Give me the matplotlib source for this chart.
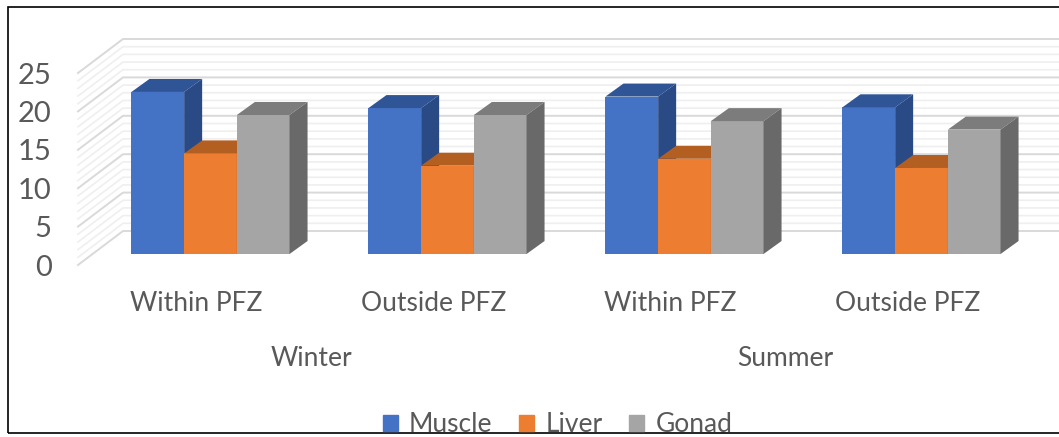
import matplotlib
matplotlib.use("Agg")
import matplotlib.pyplot as plt
from matplotlib.patches import Patch, Polygon, Rectangle
from matplotlib.transforms import blended_transform_factory
import numpy as np

W, H = 1059, 437

categories = ["Within PFZ", "Outside PFZ", "Within PFZ", "Outside PFZ"]
seasons = ["Winter", "Summer"]
series = ["Muscle", "Liver", "Gonad"]
muscle = [21.1, 19.0, 20.5, 19.1]
liver = [13.1, 11.5, 12.4, 11.2]
gonad = [18.1, 18.1, 17.3, 16.2]
yticks = [0, 5, 10, 15, 20, 25]

front_colors = ["#4472c4", "#ed7d31", "#a5a5a5"]
top_colors = ["#2f5597", "#b45f22", "#7c7c7c"]
side_colors = ["#294a84", "#b45f22", "#696969"]
text_color = "#595959"

plt.rcParams["font.family"] = ["Lato", "DejaVu Sans"]

# one unit on x is one category, one unit on y is 7.68 px
px_x = 237.0
px_y = 7.68
left_px, zero_px = 78, 265
bar_w = 52.7 / px_x
wall_dx, wall_dy = 45 / px_x, 34 / px_y
bar_dx, bar_dy = 18 / px_x, 13 / px_y
base_y = 11 / px_y
label_shift = 14 / px_x

fig = plt.figure(figsize=(W / 100, H / 100), dpi=100)
ax = fig.add_axes([left_px / W, (H - zero_px) / H, (W - left_px) / W, (zero_px - 30) / H])
first_center = (210.5 - left_px) / px_x
centers = first_center + np.arange(len(categories))
ax.set_xlim(0, (W - left_px) / px_x)
ax.set_ylim(0, (zero_px - 30) / px_y)
for s in ax.spines.values():
    s.set_visible(False)

# back and side wall gridlines, one per unit
for v in range(0, 26):
    major = v % 5 == 0
    col = "#d9d9d9" if major else "#efefef"
    ax.plot([0, wall_dx, ax.get_xlim()[1]], [v, v + wall_dy, v + wall_dy],
            color=col, lw=1.4 if major else 1.2, zorder=1 if not major else 2, clip_on=False)

for i, vals in enumerate([muscle, liver, gonad]):
    xs = centers + (i - 1) * bar_w
    ax.bar(xs, vals, bar_w, bottom=base_y, color=front_colors[i], zorder=5 + i * 2)
    for x, v in zip(xs, vals):
        x0, x1 = x - bar_w / 2, x + bar_w / 2
        top = base_y + v
        ax.add_patch(Polygon([(x0, top), (x1, top), (x1 + bar_dx, top + bar_dy), (x0 + bar_dx, top + bar_dy)],
                             closed=True, color=top_colors[i], lw=0, zorder=5 + i * 2))
        ax.add_patch(Polygon([(x1, base_y), (x1, top), (x1 + bar_dx, top + bar_dy), (x1 + bar_dx, base_y + bar_dy)],
                             closed=True, color=side_colors[i], lw=0, zorder=5 + i * 2))

ax.set_yticks(yticks)
ax.set_xticks(centers - label_shift)
ax.set_xticklabels(categories)
ax.tick_params(axis="both", length=0, labelcolor=text_color, labelsize=19)
ax.tick_params(axis="x", pad=18.7)
ax.tick_params(axis="y", pad=19, labelsize=21)

trans = blended_transform_factory(ax.transData, fig.transFigure)
for k, name in enumerate(seasons):
    ax.text(centers[2 * k:2 * k + 2].mean() - 17.5 / px_x, 1 - 359 / H, name, transform=trans,
            ha="center", va="center", fontsize=19, color=text_color)

handles = [Patch(color=c, label=s) for c, s in zip(front_colors, series)]
fig.legend(handles=handles, loc="center", bbox_to_anchor=(557.5 / W, 1 - 425 / H), ncol=3, frameon=False,
           fontsize=19, labelcolor=text_color, handlelength=0.57, handleheight=0.57,
           handletextpad=0.42, columnspacing=1.02, borderpad=0, borderaxespad=0)

fig.add_artist(Rectangle((8 / W, 1 - 433 / H), 1200 / W, 426 / H, transform=fig.transFigure,
                         fill=False, ec="black", lw=1.2))

fig.savefig("out.png", dpi=100)
